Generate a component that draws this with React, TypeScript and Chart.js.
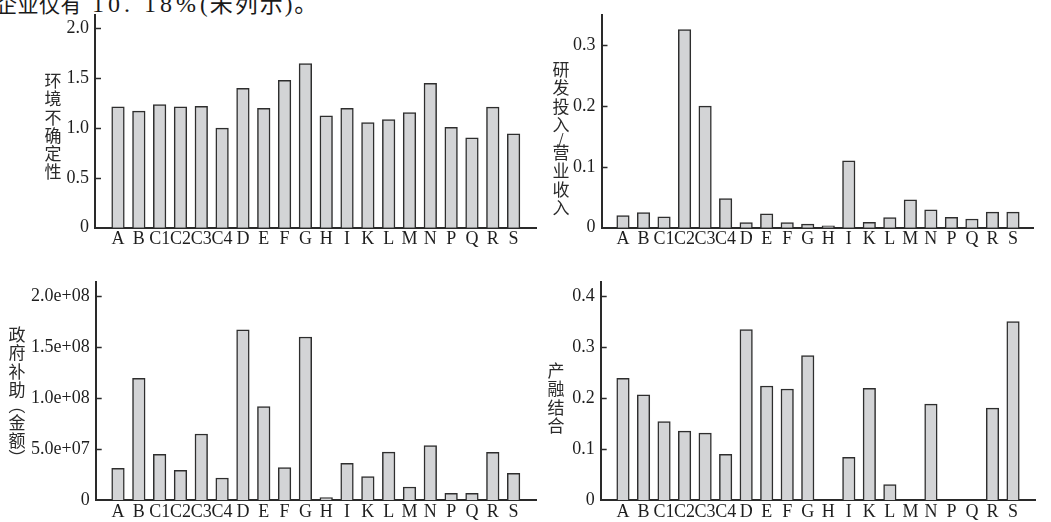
import React, { useEffect, useRef } from 'react';
import { Chart, registerables } from 'chart.js';

Chart.register(...registerables);

// ---- data ----
const categories = ['A', 'B', 'C1', 'C2', 'C3', 'C4', 'D', 'E', 'F', 'G', 'H', 'I', 'K', 'L', 'M', 'N', 'P', 'Q', 'R', 'S'];
const envUncertainty = [1.21, 1.167, 1.232, 1.21, 1.216, 0.997, 1.396, 1.196, 1.477, 1.644, 1.12, 1.196, 1.053, 1.082, 1.154, 1.445, 1.004, 0.899, 1.207, 0.941];
const rdIntensity = [0.02, 0.025, 0.018, 0.326, 0.2, 0.048, 0.0086, 0.023, 0.0086, 0.006, 0.003, 0.11, 0.009, 0.0166, 0.0457, 0.0293, 0.017, 0.0143, 0.0255, 0.0255];
const govSubsidy = [3.11e7, 1.193e8, 4.48e7, 2.91e7, 6.47e7, 2.16e7, 1.667e8, 9.15e7, 3.17e7, 1.598e8, 2.3e6, 3.6e7, 2.29e7, 4.7e7, 1.27e7, 5.33e7, 6.5e6, 6.5e6, 4.67e7, 2.61e7];
const industryFinance = [0.2386, 0.206, 0.1536, 0.135, 0.131, 0.0895, 0.334, 0.2235, 0.2176, 0.283, 0, 0.0837, 0.219, 0.03, 0, 0.188, 0, 0, 0.18, 0.3497];

const envTicks = [0, 0.5, 1.0, 1.5, 2.0];
const rdTicks = [0, 0.1, 0.2, 0.3];
const subsidyTicks = [0, 5e7, 1e8, 1.5e8, 2e8];
const finTicks = [0, 0.1, 0.2, 0.3, 0.4];

const envTitle = '环境不确定性';
const rdTitle = '研发投入/营业收入';
const subsidyTitle = '政府补助（金额）';
const finTitle = '产融结合';
const headerCjk = '企业仅有';
const headerNum = ' 10. 18%';
const headerTail = '(未列示)。';

// ---- styles ----
const AXIS_COLOR = '#2a2a2a';
const TEXT_COLOR = '#1e1e1e';
const BAR_FILL = '#d3d4d6';
const BAR_BORDER = '#2e2e2e';
const LATIN_FONT = '"Liberation Serif", "Times New Roman", serif';
const CJK_FONT = '"Noto Sans CJK SC", "Noto Sans", sans-serif';

const fmtFixed = (v: number) => (v === 0 ? '0' : v.toFixed(1));
const fmtSci = (v: number) =>
  v === 0 ? '0' : v.toExponential(1).replace(/e([+-])(\d)$/, 'e$10$2');

const innerTicks = {
  id: 'innerTicks',
  afterDraw(chart: any) {
    const { ctx, chartArea } = chart;
    const y = chart.scales.y;
    ctx.save();
    ctx.strokeStyle = AXIS_COLOR;
    ctx.lineWidth = 1.5;
    y.ticks.forEach((t: any) => {
      if (t.value === 0) return;
      const py = Math.round(y.getPixelForValue(t.value)) + 0.5;
      ctx.beginPath();
      ctx.moveTo(chartArea.left, py);
      ctx.lineTo(chartArea.left + 6, py);
      ctx.stroke();
    });
    ctx.restore();
  },
};

type PanelProps = {
  left: number;
  top: number;
  width: number;
  height: number;
  axisX: number;
  plotTop: number;
  plotBottom: number;
  plotRight: number;
  yMax: number;
  xMin: number;
  xMax: number;
  barThickness: number;
  values: number[];
  yTicks: number[];
  fmt: (v: number) => string;
};

function Panel(p: PanelProps) {
  const ref = useRef<HTMLCanvasElement | null>(null);
  useEffect(() => {
    if (!ref.current) return;
    const font = { family: LATIN_FONT, size: 18, lineHeight: 1 };
    const chart = new Chart(ref.current, {
      type: 'bar',
      data: {
        datasets: [
          {
            data: p.values.map((v, i) => ({ x: i, y: v })),
            backgroundColor: BAR_FILL,
            borderColor: BAR_BORDER,
            borderWidth: 1.5,
            barThickness: p.barThickness,
          },
        ],
      },
      options: {
        animation: false,
        responsive: false,
        devicePixelRatio: 1,
        layout: { padding: { left: 0, right: p.width - p.plotRight, top: p.plotTop, bottom: 0 } },
        plugins: { legend: { display: false }, tooltip: { enabled: false }, title: { display: false } },
        scales: {
          x: {
            type: 'linear',
            offset: false,
            min: p.xMin,
            max: p.xMax,
            afterFit: (s: any) => {
              s.height = p.height - p.plotBottom;
            },
            afterBuildTicks: (s: any) => {
              s.ticks = categories.map((_, i) => ({ value: i }));
            },
            ticks: {
              autoSkip: false,
              maxRotation: 0,
              minRotation: 0,
              padding: 3,
              font,
              color: TEXT_COLOR,
              callback: (v: any) => categories[v as number] ?? '',
            },
            grid: { display: false, drawTicks: false },
            border: { display: true, color: AXIS_COLOR, width: 2 },
          },
          y: {
            min: 0,
            max: p.yMax,
            afterFit: (s: any) => {
              s.width = p.axisX;
            },
            afterBuildTicks: (s: any) => {
              s.ticks = p.yTicks.map((v) => ({ value: v }));
            },
            ticks: {
              padding: 6,
              font,
              color: TEXT_COLOR,
              callback: (v: any) => p.fmt(v as number),
            },
            grid: { display: false, drawTicks: false },
            border: { display: true, color: AXIS_COLOR, width: 2 },
          },
        },
      } as any,
      plugins: [innerTicks],
    });
    return () => chart.destroy();
  }, []);
  return (
    <canvas
      ref={ref}
      width={p.width}
      height={p.height}
      style={{ position: 'absolute', left: p.left, top: p.top, width: p.width, height: p.height }}
    />
  );
}

const NARROW = new Set(['/', '（', '）']);
const ROTATED = new Set(['（', '）']);

function VTitle({ text, centerX, top }: { text: string; centerX: number; top: number }) {
  const chars = Array.from(text);
  return (
    <div
      style={{
        position: 'absolute',
        left: centerX - 10,
        top,
        width: 20,
        display: 'flex',
        flexDirection: 'column',
        alignItems: 'center',
        fontFamily: CJK_FONT,
        fontSize: 17,
        color: '#2a2a2a',
      }}
    >
      {chars.map((c, i) => (
        <span
          key={i}
          style={{
            display: 'block',
            height: NARROW.has(c) ? (c === '/' ? 10 : 15) : 18.3,
            lineHeight: NARROW.has(c) ? (c === '/' ? '10px' : '15px') : '18.3px',
            textAlign: 'center',
            transform: ROTATED.has(c) ? 'rotate(90deg)' : undefined,
            fontSize: c === '/' ? 14 : 17,
          }}
        >
          {c}
        </span>
      ))}
    </div>
  );
}

export default function App() {
  return (
    <div
      style={{
        position: 'fixed',
        left: 0,
        top: 0,
        width: 1051,
        height: 522,
        overflow: 'hidden',
        background: '#ffffff',
      }}
    >
      <div
        style={{
          position: 'absolute',
          left: -4,
          top: -7,
          fontFamily: CJK_FONT,
          fontSize: 21,
          lineHeight: '21px',
          color: '#1a1a1a',
          whiteSpace: 'nowrap',
        }}
      >
        <span style={{ letterSpacing: 0.5 }}>{headerCjk}</span>
        <span style={{ fontFamily: LATIN_FONT, fontSize: 24, letterSpacing: 4 }}>{headerNum}</span>
        <span style={{ fontFamily: `"Liberation Serif", ${CJK_FONT}`, fontSize: 23, letterSpacing: 2 }}>{headerTail}</span>
      </div>
      <Panel
        left={0}
        top={0}
        width={540}
        height={260}
        axisX={95}
        plotTop={10}
        plotBottom={227.7}
        plotRight={536}
        yMax={2.13}
        xMin={-1.105}
        xMax={20.076}
        barThickness={12.6}
        values={envUncertainty}
        yTicks={envTicks}
        fmt={fmtFixed}
      />
      <Panel
        left={540}
        top={0}
        width={511}
        height={260}
        axisX={61.5}
        plotTop={8}
        plotBottom={227.7}
        plotRight={493.5}
        yMax={0.35}
        xMin={-1.047}
        xMax={20.0}
        barThickness={12.5}
        values={rdIntensity}
        yTicks={rdTicks}
        fmt={fmtFixed}
      />
      <Panel
        left={0}
        top={260}
        width={540}
        height={262}
        axisX={95.7}
        plotTop={21.7}
        plotBottom={240}
        plotRight={536}
        yMax={2.14e8}
        xMin={-1.071}
        xMax={20.076}
        barThickness={12.6}
        values={govSubsidy}
        yTicks={subsidyTicks}
        fmt={fmtSci}
      />
      <Panel
        left={540}
        top={260}
        width={511}
        height={262}
        axisX={60.7}
        plotTop={21.7}
        plotBottom={240}
        plotRight={495}
        yMax={0.428}
        xMin={-1.086}
        xMax={20.07}
        barThickness={12.5}
        values={industryFinance}
        yTicks={finTicks}
        fmt={fmtFixed}
      />
      <VTitle text={envTitle} centerX={53} top={71} />
      <VTitle text={rdTitle} centerX={561} top={60} />
      <VTitle text={subsidyTitle} centerX={17} top={325} />
      <VTitle text={finTitle} centerX={556} top={361} />
    </div>
  );
}
